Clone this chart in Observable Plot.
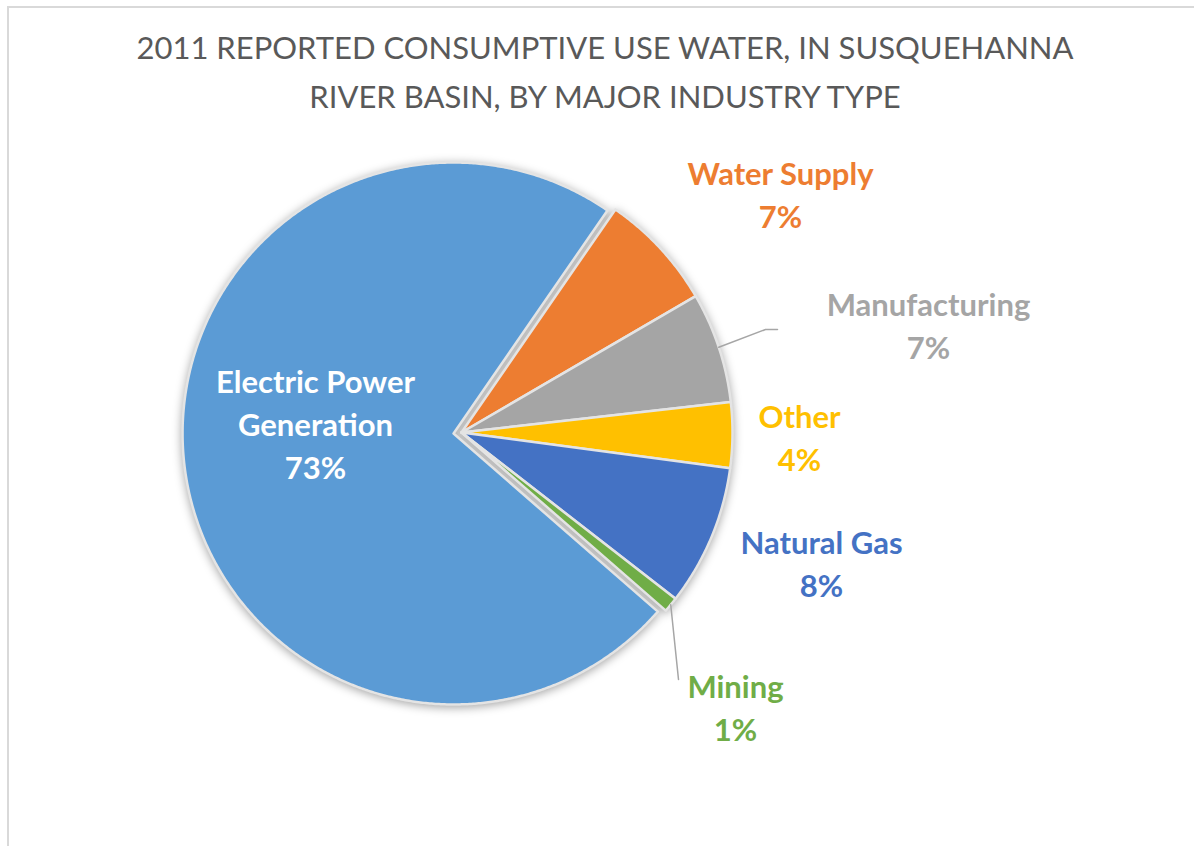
<!DOCTYPE html>
<html><head><meta charset="utf-8">
<script src="https://cdn.jsdelivr.net/npm/d3@7"></script>
<script src="https://cdn.jsdelivr.net/npm/@observablehq/plot@0.6"></script>
<style>
body{margin:0;background:#fff;}
#frame{position:absolute;left:7px;top:6px;width:1200px;height:850px;border-left:2px solid #d9d9d9;border-top:2px solid #d9d9d9;box-sizing:border-box;z-index:5;pointer-events:none;}
#title{position:absolute;left:7px;top:0;width:1196px;text-align:center;font-family:Lato,"Open Sans",sans-serif;font-size:31px;color:#595959;line-height:49px;padding-top:23px;}
#chart{position:absolute;left:0;top:130px;}
</style></head>
<body>
<div id="frame"></div>
<div id="title">2011 REPORTED CONSUMPTIVE USE WATER, IN SUSQUEHANNA<br>RIVER BASIN, BY MAJOR INDUSTRY TYPE</div>
<div id="chart"></div>
<script>
// ---- data ----
const categories = ["Water Supply", "Manufacturing", "Other", "Natural Gas", "Mining", "Electric Power Generation"];
const shares = [7.0, 6.6, 3.9, 8.4, 0.9, 73.2];
const percentLabels = ["7%", "7%", "4%", "8%", "1%", "73%"];
const labelNames = ["Water Supply", "Manufacturing", "Other", "Natural Gas", "Mining", "Electric Power\nGeneration"];

// ---- style / layout ----
const palette = ["#ED7D31", "#A5A5A5", "#FFC000", "#4472C4", "#70AD47", "#5B9BD5"];
const W = 1194, H = 716, CX = 461, CY = 302, R = 271;
const startDeg = 34.6;
const exploded = {"Electric Power Generation": 8};
const labelLayout = {
  "Water Supply": {x: 319, y: -240, fill: "#ED7D31"},
  "Manufacturing": {x: 467, y: -109, fill: "#A5A5A5"},
  "Other": {x: 338, y: 3, fill: "#FFC000"},
  "Natural Gas": {x: 360, y: 129, fill: "#4472C4"},
  "Mining": {x: 274, y: 273, fill: "#70AD47"},
  "Electric Power Generation": {x: -146, y: -10, fill: "#ffffff"}
};
const leaderKnees = {
  "Manufacturing": [[304, -103], [316, -103]],
  "Mining": [[217, 247]]
};

// ---- geometry from data ----
const rad = Math.PI / 180;
const arcs = d3.pie().sort(null).value(d => d)
  .startAngle(startDeg * rad).endAngle(startDeg * rad + 2 * Math.PI)(shares);

const slicePts = [];
const mids = {};
arcs.forEach((a, i) => {
  const name = categories[i];
  const mid = (a.startAngle + a.endAngle) / 2;
  mids[name] = mid;
  const off = exploded[name] || 0;
  const ox = off * Math.sin(mid), oy = -off * Math.cos(mid);
  slicePts.push({name, x: ox, y: oy});
  const n = Math.max(4, Math.ceil((a.endAngle - a.startAngle) / (0.4 * rad)));
  for (let k = 0; k <= n; k++) {
    const t = a.startAngle + (a.endAngle - a.startAngle) * k / n;
    slicePts.push({name, x: ox + R * Math.sin(t), y: oy - R * Math.cos(t)});
  }
  slicePts.push({name, x: ox, y: oy});
});

const labels = categories.map((c, i) => ({
  name: c,
  text: labelNames[i] + "\n" + percentLabels[i],
  ...labelLayout[c]
}));

const leaders = [];
Object.entries(leaderKnees).forEach(([name, knees]) => {
  const m = mids[name];
  leaders.push({name, x: R * Math.sin(m), y: -R * Math.cos(m)});
  knees.forEach(([x, y]) => leaders.push({name, x, y}));
});

const chart = Plot.plot({
  width: W, height: H, margin: 0,
  style: {background: "transparent", overflow: "visible"},
  x: {domain: [-CX, W - CX], range: [0, W], axis: null},
  y: {domain: [-CY, H - CY], range: [0, H], axis: null},
  color: {domain: categories, range: palette},
  marks: [
    Plot.line(slicePts, {x: "x", y: "y", z: "name", fill: "name", stroke: "#e4e4e4", strokeWidth: 2.5, strokeLinejoin: "round", curve: "linear"}),
    Plot.line(leaders, {x: "x", y: "y", z: "name", stroke: "#a6a6a6", strokeWidth: 1.5}),
    Plot.text(labels, {x: "x", y: "y", text: "text", fill: d => d.fill, fontSize: 31, fontWeight: "bold", fontFamily: "Lato, 'Open Sans', sans-serif", lineHeight: 1.39, lineAnchor: "middle", textAnchor: "middle"})
  ]
});
const g = chart.querySelector('g[aria-label="line"]');
if (g) g.style.filter = "drop-shadow(0px 2px 5px rgba(0,0,0,0.35))";
document.getElementById("chart").appendChild(chart);
</script>
</body></html>
